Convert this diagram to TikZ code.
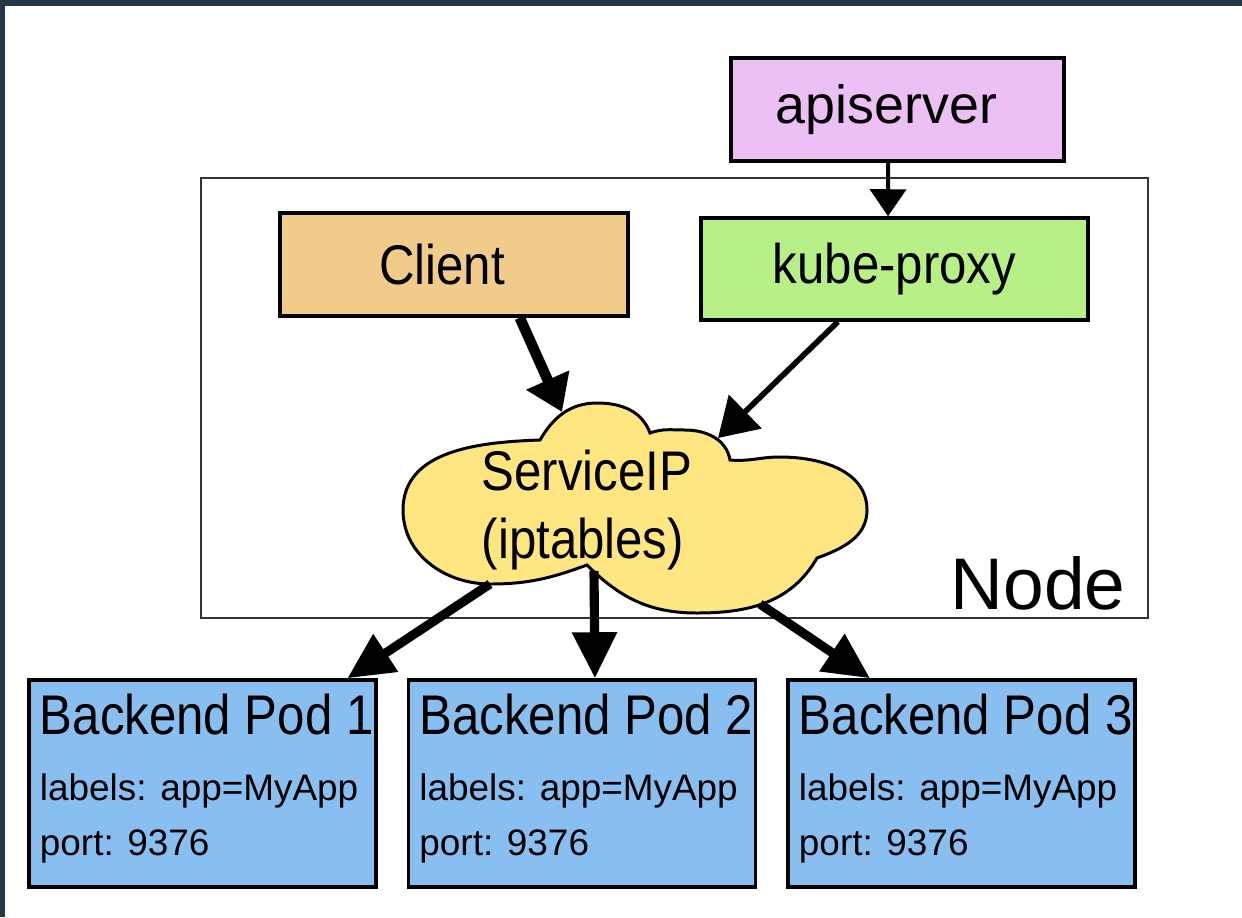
\documentclass[tikz,border=0pt]{standalone}
\usepackage{fontspec}
\setmainfont{Liberation Sans}
\newfontfamily\headfont[FakeStretch=0.88]{Liberation Sans}
\usetikzlibrary{arrows.meta,positioning}

\definecolor{apicol}{HTML}{ECC0F5}
\definecolor{clientcol}{HTML}{F0CB8A}
\definecolor{proxycol}{HTML}{B8F088}
\definecolor{cloudcol}{HTML}{FFE680}
\definecolor{podcol}{HTML}{88BFF0}
\definecolor{framecol}{HTML}{263845}

\begin{document}
\begin{tikzpicture}[
    box/.style={draw, line width=1pt, minimum height=1.03cm, inner sep=0pt},
    headtext/.style={font=\headfont\fontsize{15.9}{19.3}\selectfont},
    smalltext/.style={font=\fontsize{10.5}{12.6}\selectfont, inner sep=0pt, anchor=base west},
    pod/.style={box, fill=podcol, minimum width=3.47cm, minimum height=2.07cm},
    bigarrow/.style={line width=2.6pt, -{Triangle[length=0.46cm,width=0.43cm]}}
]
    % Background and frame
    \fill[white] (0,0) rectangle (12.42,9.17);
    \fill[framecol] (0,9.11) rectangle (12.42,9.17);
    \fill[framecol] (0,0) rectangle (0.05,9.17);
    \useasboundingbox (0,0) rectangle (12.42,9.17);

    % Node
    \draw[line width=0.55pt, black!80] (2.01,2.99) rectangle (11.48,7.39);
    \node[anchor=base west, inner sep=0pt, font=\fontsize{20.8}{24}\selectfont] (nodelbl) at (9.50,3.08) {Node};

    % apiserver, Client, kube-proxy
    \node[box, fill=apicol, minimum width=3.33cm, font=\fontsize{15.3}{18}\selectfont] (api) at (8.975,8.075) {apiserver\kern0.22cm};
    \node[box, headtext, fill=clientcol, minimum width=3.48cm] (client) at (4.54,6.525) {Client\kern0.24cm};
    \node[box, headtext, fill=proxycol, minimum width=3.87cm, minimum height=1.02cm] (proxy) at (8.945,6.48) {kube-proxy};

    % ServiceIP cloud
    \draw[fill=cloudcol, line width=0.85pt] (5.40,4.77)
        to[out=182,in=90] (4.03,4.07) to[out=-90,in=180] (4.90,3.33) to[out=0,in=200] (5.87,3.52)
        to[out=-45,in=180] (6.97,3.04) to[out=0,in=-120] (8.17,3.59)
        to[out=20,in=-90] (8.67,4.07) to[out=90,in=0] (7.80,4.60) to[out=180,in=-5] (7.30,4.57)
        to[out=100,in=0] (6.85,4.87) to[out=180,in=20] (6.50,4.84)
        to[out=110,in=0] (5.97,5.14) to[out=180,in=60] cycle;
    \node[headtext, align=left, inner sep=0pt, anchor=north west] (svc) at (4.81,4.68) {ServiceIP\\(iptables)};
    \coordinate (svcin1) at (5.62,5.05);
    \coordinate (svcin2) at (7.18,4.79);
    \coordinate (svcout1) at (4.90,3.33);
    \coordinate (svcout2) at (5.94,3.46);
    \coordinate (svcout3) at (7.60,3.13);

    % Backend pods
    \node[pod] (pod1) at (2.025,1.335) {};
    \node[headtext, inner sep=0pt, anchor=base west] (pod1t) at ([shift={(0.12,-0.56)}]pod1.north west) {Backend Pod 1};
    \node[smalltext] (pod1l) at ([shift={(0.12,-1.22)}]pod1.north west) {labels: app=MyApp};
    \node[smalltext] (pod1p) at ([shift={(0.12,-1.77)}]pod1.north west) {port: 9376};

    \node[pod] (pod2) at (5.82,1.335) {};
    \node[headtext, inner sep=0pt, anchor=base west] (pod2t) at ([shift={(0.12,-0.56)}]pod2.north west) {Backend Pod 2};
    \node[smalltext] (pod2l) at ([shift={(0.12,-1.22)}]pod2.north west) {labels: app=MyApp};
    \node[smalltext] (pod2p) at ([shift={(0.12,-1.77)}]pod2.north west) {port: 9376};

    \node[pod] (pod3) at (9.615,1.335) {};
    \node[headtext, inner sep=0pt, anchor=base west] (pod3t) at ([shift={(0.12,-0.56)}]pod3.north west) {Backend Pod 3};
    \node[smalltext] (pod3l) at ([shift={(0.12,-1.22)}]pod3.north west) {labels: app=MyApp};
    \node[smalltext] (pod3p) at ([shift={(0.12,-1.77)}]pod3.north west) {port: 9376};

    % Arrows
    \draw[line width=3pt, -{Triangle[length=0.35cm,width=0.45cm]}] (client.-39) -- (svcin1);
    \draw[line width=1.6pt, -{Triangle[length=0.38cm,width=0.46cm]}] (proxy.223) -- (svcin2);
    \draw[line width=1.1pt, -{Triangle[length=0.27cm,width=0.36cm]}] (api.-100) -- (proxy.97);
    \draw[bigarrow] (svcout1) -- (pod1.36);
    \draw[bigarrow] (svcout2) -- (pod2.83);
    \draw[bigarrow] (svcout3) -- (pod3.131);
\end{tikzpicture}
\end{document}
